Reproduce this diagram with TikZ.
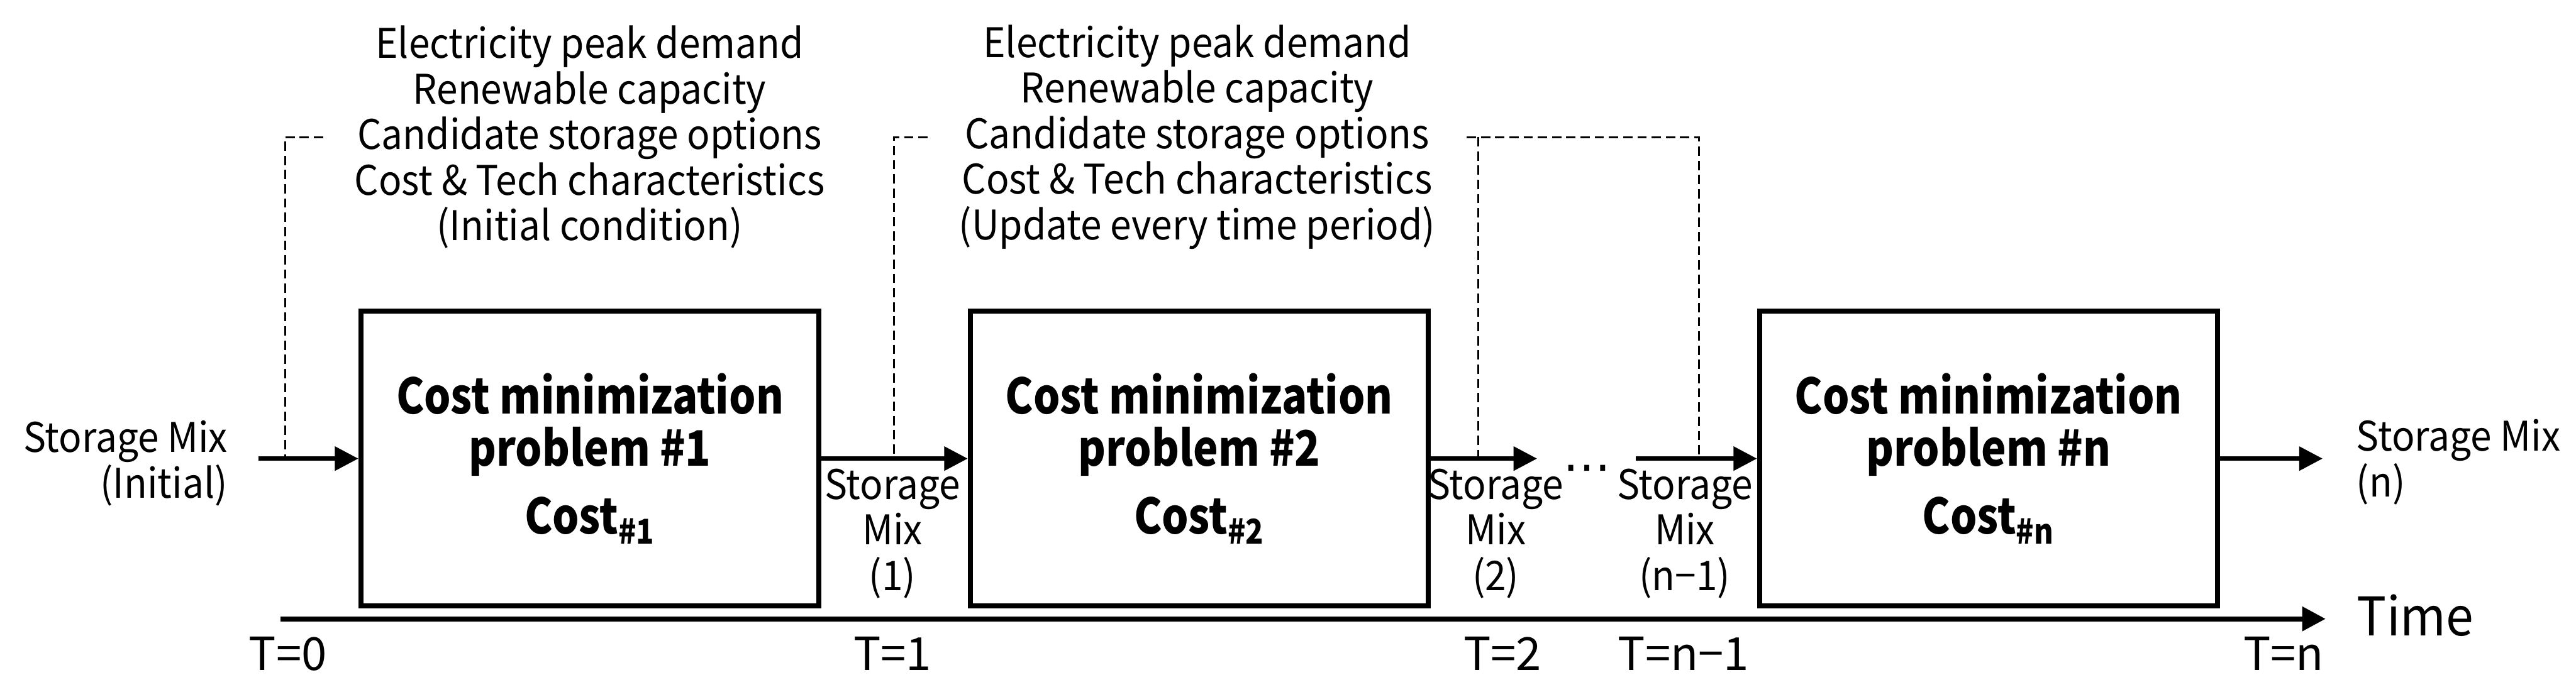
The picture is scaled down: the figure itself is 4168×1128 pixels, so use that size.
\documentclass[tikz,border=0pt]{standalone}
\usepackage{fontspec}
\setmainfont{Noto Sans CJK KR}[FakeStretch=0.93]
\newfontfamily\plainfont{Noto Sans CJK KR}
\newfontfamily\boxfont{Noto Sans CJK KR}[FakeStretch=0.86]
\newfontfamily\symfont{DejaVu Sans}
\usetikzlibrary{arrows.meta}
\begin{document}
\begin{tikzpicture}[x=0.01cm, y=-0.01cm,
  txt/.style={inner sep=0pt, font=\fontsize{18.8pt}{21pt}\selectfont},
  infotxt/.style={txt, align=center},
  probbox/.style={draw, line width=0.08cm, minimum width=7.41cm, minimum height=4.77cm, inner sep=0pt, align=center, font=\boxfont\fontsize{22.5pt}{24.2pt}\selectfont\bfseries},
  tlabel/.style={inner sep=0pt, anchor=base, font=\plainfont\fontsize{21pt}{24pt}\selectfont},
  flow/.style={line width=0.07cm, -{Triangle[length=0.38cm, width=0.38cm]}},
  axisline/.style={line width=0.085cm, -{Triangle[length=0.38cm, width=0.38cm]}},
  dashline/.style={line width=0.03cm, dash pattern=on 0.15cm off 0.08cm},
]
\useasboundingbox (0,0) rectangle (4168,1128);

% problem boxes
\node[probbox] (b1) at (954.5,742.5) {Cost minimization\\problem \#1\\[7pt]Cost\textsubscript{\#1}};
\node[probbox] (b2) at (1940.5,742.5) {Cost minimization\\problem \#2\\[7pt]Cost\textsubscript{\#2}};
\node[probbox] (bn) at (3217.5,742.5) {Cost minimization\\problem \#n\\[7pt]Cost\textsubscript{\#n}};

% input information
\node[infotxt] (info1) at (954,222) {Electricity peak demand\\Renewable capacity\\Candidate storage options\\Cost \& Tech characteristics\\(Initial condition)};
\node[infotxt] (info2) at (1937,222) {Electricity peak demand\\Renewable capacity\\Candidate storage options\\Cost \& Tech characteristics\\(Update every time period)};

% storage mix labels
\node[txt, align=right, anchor=east] (mix0) at (369,750) {Storage Mix\\(Initial)};
\node[txt, align=center] (mix1) at (1444,864) {Storage\\Mix\\(1)};
\node[txt, align=center] (mix2) at (2420,864) {Storage\\Mix\\(2)};
\node[inner sep=0pt, font=\symfont\fontsize{22pt}{24pt}\selectfont] (dots) at (2568,768) {⋯};
\node[txt, align=center] (mixn1) at (2726,864) {Storage\\Mix\\(n−1)};
\node[txt, align=left, anchor=west] (mixn) at (3812,748) {Storage Mix\\(n)};

% time labels
\node[tlabel] (t0) at (466,1085) {T=0};
\node[tlabel] (t1) at (1444,1085) {T=1};
\node[tlabel] (t2) at (2431,1085) {T=2};
\node[tlabel] (tn1) at (2724,1085) {T=n−1};
\node[tlabel] (tn) at (3695,1085) {T=n};
\node[inner sep=0pt, anchor=base west, font=\fontsize{24.5pt}{28pt}\selectfont] (time) at (3813,1029) {Time};

% free ends and junctions
\coordinate (in0) at (418,742.5);
\coordinate (o2) at (2487,742.5);
\coordinate (i3) at (2647,742.5);
\coordinate (outn) at (3758,742.5);
\coordinate (ax0) at (454,1002);
\coordinate (ax1) at (3763,1002);
\coordinate (j1) at (461,742.5);
\coordinate (j2) at (1446,742.5);
\coordinate (j3) at (2392,742.5);
\coordinate (j4) at (2749,742.5);

% flow arrows
\draw[flow] (in0) -- (b1.west);
\draw[flow] (b1.east) -- (b2.west);
\draw[flow] (b2.east) -- (o2);
\draw[flow] (i3) -- (bn.west);
\draw[flow] (bn.east) -- (outn);

% time axis
\draw[axisline] (ax0) -- (ax1);

% dashed information links
\draw[dashline] ([xshift=-0.5cm]info1.west) -| (j1);
\draw[dashline] ([xshift=-0.5cm]info2.west) -| (j2);
\draw[dashline] ([xshift=0.5cm]info2.east) -| (j4);
\draw[dashline] (j3 |- info2.east) -- (j3);
\end{tikzpicture}
\end{document}
